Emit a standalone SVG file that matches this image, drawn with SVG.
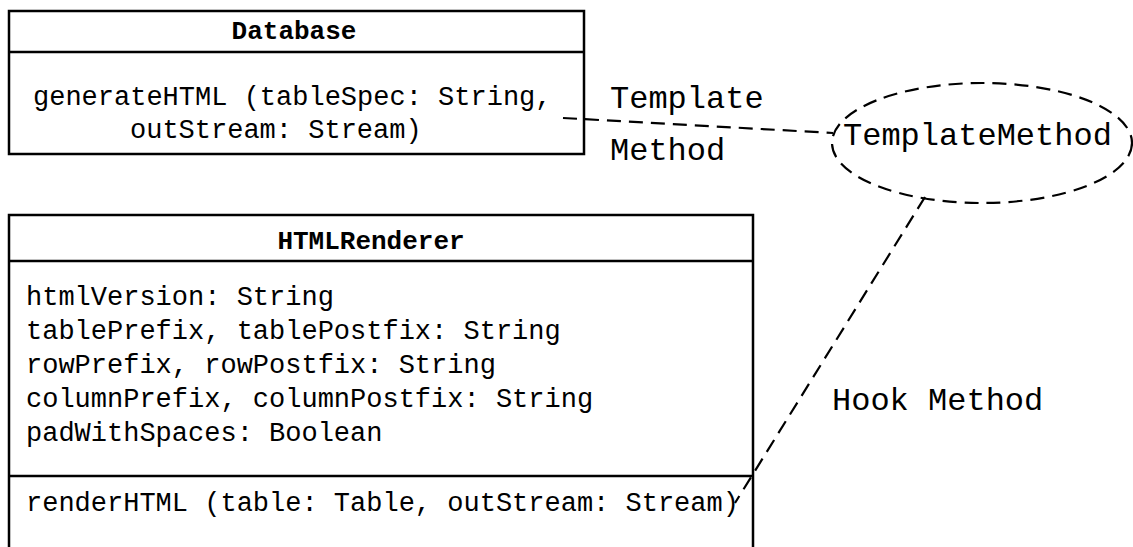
<svg xmlns="http://www.w3.org/2000/svg" width="1133" height="547" viewBox="0 0 1133 547">
<style>
.box{fill:#fff;stroke:#000;stroke-width:2.5}
.div{stroke:#000;stroke-width:2.5}
.t{font-family:"Liberation Mono","Courier New",monospace;font-size:27px;fill:#000}
.b{font-weight:bold;font-size:26px}
.lbl{font-family:"Liberation Mono","Courier New",monospace;font-size:32px;fill:#000}
.dash{fill:none;stroke:#000;stroke-width:2.2;stroke-dasharray:14 8}
</style>
<rect width="1133" height="547" fill="#fff"/>
<g id="database">
<rect class="box" x="9" y="11" width="575" height="143"/>
<line class="div" x1="9" y1="52" x2="584" y2="52"/>
<text class="t b" x="294" y="39" text-anchor="middle">Database</text>
<text class="t" x="33" y="105">generateHTML (tableSpec: String,</text>
<text class="t" x="130" y="138">outStream: Stream)</text>
</g>
<g id="htmlrenderer">
<path class="box" d="M9,560 L9,215 L753,215 L753,560"/>
<line class="div" x1="9" y1="261" x2="753" y2="261"/>
<line class="div" x1="9" y1="476" x2="753" y2="476"/>
<text class="t b" x="371" y="249" text-anchor="middle">HTMLRenderer</text>
<text class="t" x="26" y="305">htmlVersion: String</text>
<text class="t" x="26" y="339">tablePrefix, tablePostfix: String</text>
<text class="t" x="26" y="373">rowPrefix, rowPostfix: String</text>
<text class="t" x="26" y="407">columnPrefix, columnPostfix: String</text>
<text class="t" x="26" y="441">padWithSpaces: Boolean</text>
<text class="t" x="26" y="511">renderHTML (table: Table, outStream: Stream)</text>
</g>
<g id="templatemethod">
<ellipse class="dash" cx="982" cy="143" rx="150" ry="60" stroke-width="2.5"/>
<text class="lbl" x="843" y="145">TemplateMethod</text>
</g>
<g id="connectors">
<path class="dash" d="M563,118 L833,133"/>
<path class="dash" d="M925,197 L735,503"/>
</g>
<g id="labels">
<text class="lbl" x="610" y="108">Template</text>
<text class="lbl" x="610" y="160">Method</text>
<text class="lbl" x="832" y="410">Hook Method</text>
</g>
</svg>
